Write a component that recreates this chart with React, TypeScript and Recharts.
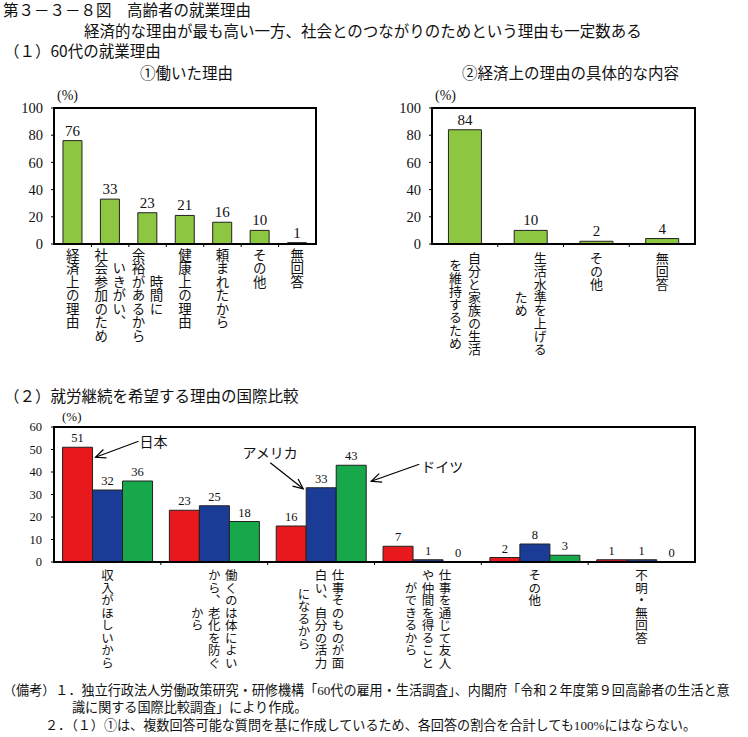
import React from 'react';
import { BarChart, Bar, XAxis, YAxis, LabelList } from 'recharts';

// ---------- data ----------
const workCategories: string[][] = [
  ['経済上の理由'],
  ['いきがい、', '社会参加のため'],
  ['時間に', '余裕があるから'],
  ['健康上の理由'],
  ['頼まれたから'],
  ['その他'],
  ['無回答'],
];
const workValues = [76, 33, 23, 21, 16, 10, 1];

const econCategories: string[][] = [
  ['自分と家族の生活', 'を維持するため'],
  ['生活水準を上げる', 'ため'],
  ['その他'],
  ['無回答'],
];
const econValues = [84, 10, 2, 4];

const intlCategories: string[][] = [
  ['収入がほしいから'],
  ['働くのは体によい', 'から、老化を防ぐ', 'から'],
  ['仕事そのものが面', '白い、自分の活力', 'になるから'],
  ['仕事を通じて友人', 'や仲間を得ること', 'ができるから'],
  ['その他'],
  ['不明・無回答'],
];
const japanValues = [51, 23, 16, 7, 2, 1];
const usaValues = [32, 25, 33, 1, 8, 1];
const germanyValues = [36, 18, 43, 0, 3, 0];

const topTicks = [0, 20, 40, 60, 80, 100];
const bottomTicks = [0, 10, 20, 30, 40, 50, 60];

// ---------- styles ----------
const SERIF = '"Liberation Serif", "Noto Sans CJK JP", serif';
const GOTHIC = '"Noto Sans CJK JP", sans-serif';
const GREEN = '#8DC641';
const RED = '#E8191C';
const BLUE = '#1B3C96';
const DGREEN = '#17A84B';

const workData = workCategories.map((c, i) => ({ name: c.join(''), v: workValues[i] }));
const econData = econCategories.map((c, i) => ({ name: c.join(''), v: econValues[i] }));
const intlData = intlCategories.map((c, i) => ({
  name: c.join(''),
  jp: japanValues[i],
  us: usaValues[i],
  de: germanyValues[i],
}));

function makeVerticalTick(cols: string[][], fs: number, colGap: number, topGap: number, band: number) {
  return (props: any) => {
    const { x, y, index } = props;
    const c = cols[index] || [];
    const maxLen = Math.max(...c.map((s) => [...s].length));
    const cy = y + topGap + (maxLen * fs) / 2;
    const els: any[] = [];
    if (index > 0) {
      els.push(
        <line key="bt" x1={x - band / 2} x2={x - band / 2} y1={y} y2={y + 3} stroke="#000" strokeWidth={1} />
      );
    }
    c.forEach((s, ci) => {
      const colX = x + ((c.length - 1) / 2 - ci) * colGap;
      els.push(
        <text
          key={ci}
          x={colX}
          y={cy}
          textAnchor="middle"
          fontSize={fs}
          fontFamily={GOTHIC}
          fill="#111"
          style={{ writingMode: 'vertical-rl' as any }}
        >
          {s}
        </text>
      );
    });
    return <g>{els}</g>;
  };
}

function Arrow({ x1, y1, x2, y2 }: { x1: number; y1: number; x2: number; y2: number }) {
  const ang = Math.atan2(y2 - y1, x2 - x1);
  const L = 11;
  const a = 0.42;
  const p1 = [x2 - L * Math.cos(ang - a), y2 - L * Math.sin(ang - a)];
  const p2 = [x2 - L * Math.cos(ang + a), y2 - L * Math.sin(ang + a)];
  return (
    <g stroke="#000" strokeWidth={1.2} fill="none">
      <line x1={x1} y1={y1} x2={x2} y2={y2} />
      <polyline points={`${p1[0]},${p1[1]} ${x2},${y2} ${p2[0]},${p2[1]}`} />
    </g>
  );
}

const valueText = (key: string, x: number, y: number, v: any) => (
  <text key={key} x={x} y={y} textAnchor="middle" fontSize={12.5} fontFamily={SERIF} fill="#111">
    {v}
  </text>
);

function makeIntlLabel(kind: 'jp' | 'us' | 'de') {
  return (props: any) => {
    const { x, y, width, height, value, index } = props;
    const els: any[] = [valueText('v', x + width / 2, y - 5, value)];
    // zero-height bars of the following series get no label call; draw them from here
    if (kind === 'us' && germanyValues[index] === 0) {
      els.push(valueText('z', x + width * 1.5, y + height - 5, germanyValues[index]));
    }
    if (kind === 'jp' && index === 0) {
      els.push(<Arrow key="a" x1={x + width + 46} y1={y - 6} x2={x + width + 3} y2={y + 10} />);
      els.push(
        <text key="t" x={x + width + 47} y={y - 6} dominantBaseline="central" fontSize={14} fontFamily={GOTHIC} fill="#111">
          日本
        </text>
      );
    }
    if (kind === 'us' && index === 2) {
      els.push(<Arrow key="a" x1={x - 36} y1={y - 25} x2={x - 3} y2={y + 1} />);
      els.push(
        <text key="t" x={x - 36} y={y - 36} textAnchor="middle" dominantBaseline="central" fontSize={14} fontFamily={GOTHIC} fill="#111">
          アメリカ
        </text>
      );
    }
    if (kind === 'de' && index === 2) {
      els.push(<Arrow key="a" x1={x + width + 53} y1={y - 1} x2={x + width + 5} y2={y + 16} />);
      els.push(
        <text key="t" x={x + width + 55} y={y + 1} dominantBaseline="central" fontSize={14} fontFamily={GOTHIC} fill="#111">
          ドイツ
        </text>
      );
    }
    return <g>{els}</g>;
  };
}

function T({ x, y, fs, font, lh, children }: any) {
  return (
    <div
      style={{
        position: 'absolute',
        left: x,
        top: y,
        fontSize: fs,
        fontFamily: font,
        lineHeight: lh || 1.2,
        whiteSpace: 'nowrap',
        color: '#111',
      }}
    >
      {children}
    </div>
  );
}

function Box({ l, t, r, b }: { l: number; t: number; r: number; b: number }) {
  const w = 2.6;
  return (
    <div
      style={{
        position: 'absolute',
        left: l - w / 2,
        top: t - w / 2,
        width: r - l + w,
        height: b - t + w,
        border: `${w}px solid #000`,
        boxSizing: 'border-box',
        pointerEvents: 'none',
      }}
    />
  );
}

const yTick = (fs: number) => ({ fontSize: fs, fontFamily: SERIF, fill: '#111' });

export default function App() {
  return (
    <div style={{ position: 'absolute', left: 0, top: 0, width: 748, height: 737, background: '#fff', overflow: 'hidden' }}>
      <T x={3} y={2} fs={15.5} lh={1} font={GOTHIC}>第３－３－８図　高齢者の就業理由</T>
      <T x={84} y={23} fs={15.5} lh={1} font={GOTHIC}>経済的な理由が最も高い一方、社会とのつながりのためという理由も一定数ある</T>
      <T x={4} y={43} fs={15.5} lh={1} font={GOTHIC}>（１）60代の就業理由</T>
      <T x={140} y={65} fs={15.5} lh={1} font={GOTHIC}>①働いた理由</T>
      <T x={462} y={65} fs={15.5} lh={1} font={GOTHIC}>②経済上の理由の具体的な内容</T>

      {/* chart 1 */}
      <div style={{ position: 'absolute', left: 0, top: 90, width: 330, height: 280 }}>
        <BarChart width={330} height={280} data={workData} margin={{ top: 18, right: 14, left: 14, bottom: 0 }} barCategoryGap="24%">
          <XAxis
            dataKey="name"
            interval={0}
            height={126}
            tickLine={false}
            axisLine={false}
            tickSize={0}
            tickMargin={0}
            tick={makeVerticalTick(workCategories, 13.5, 18, 4, 262 / 7)}
          />
          <YAxis width={40} domain={[0, 100]} ticks={topTicks} tickLine={{ stroke: '#000' }} tickSize={3} axisLine={false} tickMargin={8} tick={yTick(14.5)} />
          <Bar dataKey="v" fill={GREEN} stroke="#222" strokeWidth={1} isAnimationActive={false}>
            <LabelList dataKey="v" position="top" offset={5} fill="#111" fontSize={15} fontFamily={SERIF} />
          </Bar>
        </BarChart>
      </div>
      <Box l={54} t={108} r={316} b={244} />
      <T x={57} y={88} fs={14} font={SERIF}>(%)</T>

      {/* chart 2 */}
      <div style={{ position: 'absolute', left: 370, top: 90, width: 340, height: 280 }}>
        <BarChart width={340} height={280} data={econData} margin={{ top: 18, right: 15, left: 22, bottom: 0 }} barCategoryGap="25%">
          <XAxis
            dataKey="name"
            interval={0}
            height={126}
            tickLine={false}
            axisLine={false}
            tickSize={0}
            tickMargin={0}
            tick={makeVerticalTick(econCategories, 13, 19, 8, 263 / 4)}
          />
          <YAxis width={40} domain={[0, 100]} ticks={topTicks} tickLine={{ stroke: '#000' }} tickSize={3} axisLine={false} tickMargin={8} tick={yTick(14.5)} />
          <Bar dataKey="v" fill={GREEN} stroke="#222" strokeWidth={1} isAnimationActive={false}>
            <LabelList dataKey="v" position="top" offset={5} fill="#111" fontSize={15} fontFamily={SERIF} />
          </Bar>
        </BarChart>
      </div>
      <Box l={432} t={108} r={695} b={244} />
      <T x={435} y={88} fs={14} font={SERIF}>(%)</T>

      <T x={4} y={388} fs={15.5} lh={1} font={GOTHIC}>（２）就労継続を希望する理由の国際比較</T>

      {/* chart 3 */}
      <div style={{ position: 'absolute', left: 0, top: 400, width: 720, height: 280 }}>
        <BarChart width={720} height={280} data={intlData} margin={{ top: 27, right: 25, left: 14, bottom: 0 }} barCategoryGap="8%" barGap={0}>
          <XAxis
            dataKey="name"
            interval={0}
            height={118}
            tickLine={false}
            axisLine={false}
            tickSize={0}
            tickMargin={0}
            tick={makeVerticalTick(intlCategories, 12.5, 17, 7, 641 / 6)}
          />
          <YAxis width={40} domain={[0, 60]} ticks={bottomTicks} tickLine={{ stroke: '#000' }} tickSize={3} axisLine={false} tickMargin={9} tick={yTick(12.5)} />
          <Bar dataKey="jp" fill={RED} stroke="#222" strokeWidth={1} isAnimationActive={false}>
            <LabelList dataKey="jp" content={makeIntlLabel('jp')} />
          </Bar>
          <Bar dataKey="us" fill={BLUE} stroke="#222" strokeWidth={1} isAnimationActive={false}>
            <LabelList dataKey="us" content={makeIntlLabel('us')} />
          </Bar>
          <Bar dataKey="de" fill={DGREEN} stroke="#222" strokeWidth={1} isAnimationActive={false}>
            <LabelList dataKey="de" content={makeIntlLabel('de')} />
          </Bar>
        </BarChart>
      </div>
      <Box l={54} t={427} r={695} b={562} />
      <T x={62} y={409} fs={13} font={SERIF}>(%)</T>

      <T x={3} y={683} fs={13.1} font={SERIF}>（備考）１．独立行政法人労働政策研究・研修機構「60代の雇用・生活調査」、内閣府「令和２年度第９回高齢者の生活と意</T>
      <T x={72} y={700} fs={13.1} font={SERIF}>識に関する国際比較調査」により作成。</T>
      <T x={45} y={718} fs={13.1} font={SERIF}>２．（１）①は、複数回答可能な質問を基に作成しているため、各回答の割合を合計しても100%にはならない。</T>
    </div>
  );
}
